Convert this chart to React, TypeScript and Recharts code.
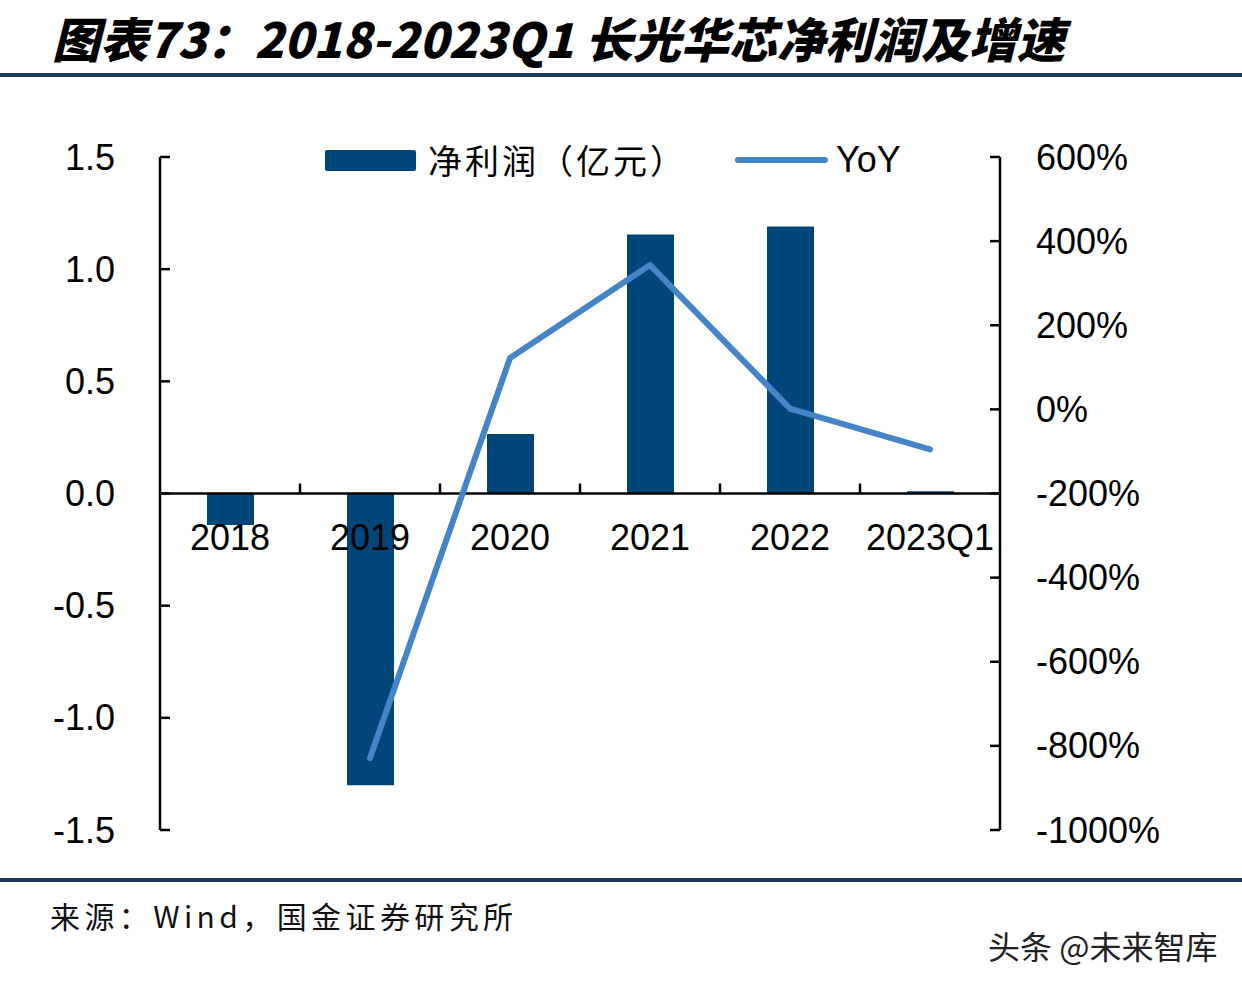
import React from 'react';
import { ComposedChart, Bar, Line, XAxis, YAxis, ReferenceLine } from 'recharts';

// values
const years = ['2018', '2019', '2020', '2021', '2022', '2023Q1'];
const netProfit = [-0.14, -1.3, 0.265, 1.155, 1.19, 0.01];
const yoyGrowth: (number | null)[] = [null, -829, 122, 343, 2, -95];
const leftTicks = [-1.5, -1.0, -0.5, 0, 0.5, 1.0, 1.5];
const rightTicks = [-1000, -800, -600, -400, -200, 0, 200, 400, 600];
const seriesNames = ['净利润（亿元）', 'YoY'];

const titleText = '图表73：2018-2023Q1 长光华芯净利润及增速';
const sourceText = '来源：Wind，国金证券研究所';
const watermarkText = '头条 @未来智库';

const W = 1242;
const H = 990;
const MARGIN = { top: 157, right: 142, bottom: 150, left: 60 };
const AXIS_W = 100;
const XAXIS_H = 10;
const PLOT_W = W - MARGIN.left - MARGIN.right - AXIS_W * 2;
const PLOT_H = H - MARGIN.top - MARGIN.bottom - XAXIS_H;

const BAR_COLOR = '#00467a';
const LINE_COLOR = '#4684c8';
const RULE_COLOR = '#1b3a5e';
const FONT = '"Liberation Sans", Arial, "Noto Sans CJK SC", sans-serif';

const data = years.map((year, i) => ({
  year,
  profit: netProfit[i],
  yoy: yoyGrowth[i],
}));

const LeftTick = (props: any) => {
  const { x, y, payload } = props;
  return (
    <g>
      <line x1={x} x2={x + 10} y1={y} y2={y} stroke="#000" strokeWidth={2.5} />
      <text x={x - 45} y={y} textAnchor="end" dominantBaseline="central" fontSize={36} fontFamily={FONT} fill="#000">
        {Number(payload.value).toFixed(1)}
      </text>
    </g>
  );
};

const RightTick = (props: any) => {
  const { x, y, payload } = props;
  return (
    <g>
      <line x1={x - 10} x2={x} y1={y} y2={y} stroke="#000" strokeWidth={2.5} />
      <text x={x + 36} y={y} textAnchor="start" dominantBaseline="central" fontSize={36} fontFamily={FONT} fill="#000">
        {payload.value + '%'}
      </text>
    </g>
  );
};

// category labels sit under the zero line (middle of the symmetric left domain)
const CatTick = (props: any) => {
  const { x, y, payload, index } = props;
  const zeroY = y - PLOT_H / 2;
  const band = PLOT_W / years.length;
  return (
    <g>
      {index < years.length - 1 && (
        <line x1={x + band / 2} x2={x + band / 2} y1={zeroY} y2={zeroY - 10} stroke="#000" strokeWidth={2.5} />
      )}
      <text x={x} y={zeroY + 44} textAnchor="middle" dominantBaseline="central" fontSize={36} fontFamily={FONT} fill="#000">
        {payload.value}
      </text>
    </g>
  );
};

export default function App() {
  return (
    <div style={{ position: 'absolute', left: 0, top: 0, width: W, height: H, background: '#fff', overflow: 'hidden' }}>
      <div
        style={{
          position: 'absolute',
          left: 52,
          top: 10,
          fontSize: 48,
          lineHeight: '54px',
          fontWeight: 900,
          fontStyle: 'italic',
          fontFamily: '"Noto Sans CJK SC", sans-serif',
          color: '#000',
          whiteSpace: 'nowrap',
        }}
      >
        {titleText}
      </div>
      <div style={{ position: 'absolute', left: 0, top: 73, width: W, height: 4, background: RULE_COLOR }} />

      <div style={{ position: 'absolute', left: 0, top: 0 }}>
        <ComposedChart width={W} height={H} data={data} margin={MARGIN}>
          <XAxis
            dataKey="year"
            height={XAXIS_H}
            axisLine={false}
            tickLine={false}
            tickSize={0}
            tickMargin={0}
            interval={0}
            tick={<CatTick />}
          />
          <YAxis
            yAxisId="left"
            width={AXIS_W}
            domain={[-1.5, 1.5]}
            ticks={leftTicks}
            interval={0}
            axisLine={{ stroke: '#000', strokeWidth: 2.5 }}
            tickLine={false}
            tickSize={0}
            tickMargin={0}
            tick={<LeftTick />}
          />
          <YAxis
            yAxisId="right"
            orientation="right"
            width={AXIS_W}
            domain={[-1000, 600]}
            ticks={rightTicks}
            interval={0}
            axisLine={{ stroke: '#000', strokeWidth: 2.5 }}
            tickLine={false}
            tickSize={0}
            tickMargin={0}
            tick={<RightTick />}
          />
          <Bar yAxisId="left" dataKey="profit" name={seriesNames[0]} fill={BAR_COLOR} barSize={47} isAnimationActive={false} />
          <ReferenceLine yAxisId="left" y={0} stroke="#000" strokeWidth={2.5} />
          <Line
            yAxisId="right"
            dataKey="yoy"
            name={seriesNames[1]}
            type="linear"
            stroke={LINE_COLOR}
            strokeWidth={6}
            strokeLinecap="round"
            strokeLinejoin="round"
            dot={false}
            activeDot={false}
            isAnimationActive={false}
          />
        </ComposedChart>
      </div>

      {/* legend */}
      <div style={{ position: 'absolute', left: 325, top: 150, width: 91, height: 21, background: BAR_COLOR, borderRadius: 2 }} />
      <div
        style={{
          position: 'absolute',
          left: 428,
          top: 139,
          fontSize: 34,
          lineHeight: '42px',
          letterSpacing: 3,
          fontFamily: '"Noto Sans CJK SC", sans-serif',
          color: '#000',
          whiteSpace: 'nowrap',
        }}
      >
        {seriesNames[0]}
      </div>
      <div style={{ position: 'absolute', left: 735, top: 157, width: 93, height: 6, background: LINE_COLOR, borderRadius: 3 }} />
      <div
        style={{
          position: 'absolute',
          left: 836,
          top: 139,
          fontSize: 36,
          lineHeight: '42px',
          fontFamily: FONT,
          color: '#000',
          whiteSpace: 'nowrap',
        }}
      >
        {seriesNames[1]}
      </div>

      <div style={{ position: 'absolute', left: 0, top: 878, width: W, height: 4, background: RULE_COLOR }} />
      <div
        style={{
          position: 'absolute',
          left: 50,
          top: 896,
          fontSize: 30,
          lineHeight: '38px',
          letterSpacing: 4.4,
          fontFamily: '"Noto Sans CJK SC", sans-serif',
          color: '#111',
          whiteSpace: 'nowrap',
        }}
      >
        {sourceText}
      </div>
      <div
        style={{
          position: 'absolute',
          left: 988,
          top: 925,
          fontSize: 32,
          lineHeight: '40px',
          fontFamily: '"Noto Sans CJK SC", sans-serif',
          color: '#222',
          whiteSpace: 'nowrap',
        }}
      >
        {watermarkText}
      </div>
    </div>
  );
}
